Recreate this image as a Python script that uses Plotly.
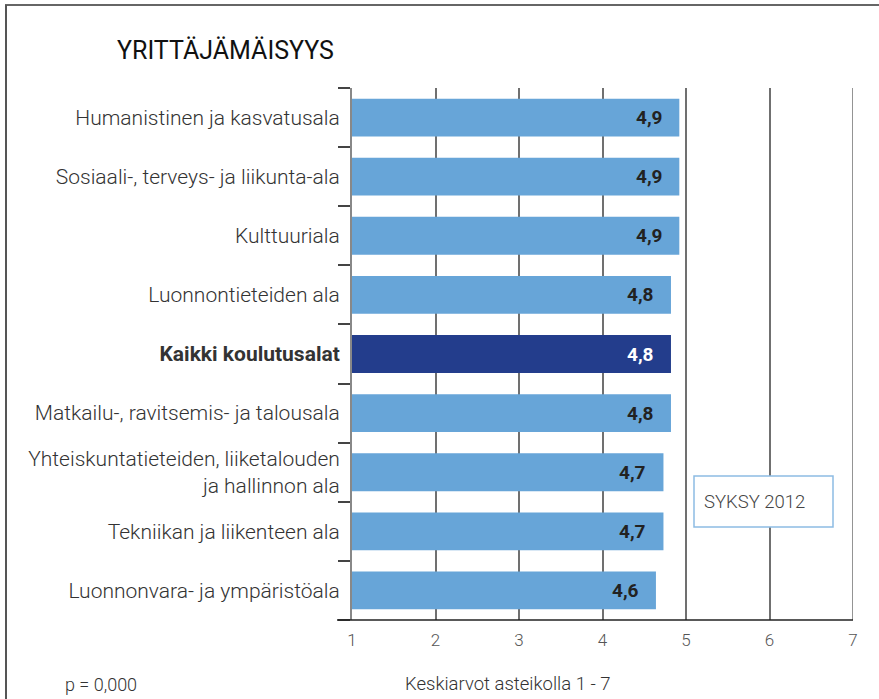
import plotly.graph_objects as go

categories = [
    "Humanistinen ja kasvatusala",
    "Sosiaali-, terveys- ja liikunta-ala",
    "Kulttuuriala",
    "Luonnontieteiden ala",
    "Kaikki koulutusalat",
    "Matkailu-, ravitsemis- ja talousala",
    "Yhteiskuntatieteiden, liiketalouden<br>ja hallinnon ala",
    "Tekniikan ja liikenteen ala",
    "Luonnonvara- ja ympäristöala",
]
values = [4.92, 4.92, 4.92, 4.82, 4.82, 4.82, 4.73, 4.73, 4.64]
value_labels = ["4,9", "4,9", "4,9", "4,8", "4,8", "4,8", "4,7", "4,7", "4,6"]
highlight = "Kaikki koulutusalat"
x_ticks = [1, 2, 3, 4, 5, 6, 7]

LIGHT = "#67A5D8"
DARK = "#233D8C"
FONT = "Roboto"

W, H = 879, 699
L, R, T, B = 352, 853, 88, 620

def px(x):
    return (x - L) / (R - L)

def py(y):
    return (B - y) / (B - T)

colors = [DARK if c == highlight else LIGHT for c in categories]
text_colors = ["#ffffff" if c == highlight else "#222222" for c in categories]
ticktext = [f"<b>{c}</b>" if c == highlight else c for c in categories]

fig = go.Figure()
fig.add_trace(go.Bar(
    x=values,
    y=categories,
    orientation="h",
    marker=dict(color=colors, line=dict(width=0)),
    hoverinfo="skip",
))

for c, v, lab, tc in zip(categories, values, value_labels, text_colors):
    fig.add_annotation(x=v, y=c, xref="x", yref="y", text=lab, showarrow=False,
                       xanchor="right", yanchor="middle", xshift=-15,
                       font=dict(family=FONT, size=19, color=tc, weight="bold"))

fig.update_layout(
    width=W, height=H,
    margin=dict(l=L, r=W - R, t=T, b=H - B, pad=0),
    paper_bgcolor="white",
    plot_bgcolor="white",
    showlegend=False,
    bargap=0.36,
    font=dict(family=FONT, color="#333333"),
    xaxis=dict(
        range=[1, 7],
        tickvals=x_ticks,
        ticktext=[str(t) for t in x_ticks],
        showgrid=True,
        gridcolor="#707070",
        gridwidth=1.5,
        zeroline=False,
        showline=False,
        ticks="",
        tickfont=dict(family=FONT, size=17, color="#555555", weight=300),
        ticklabelstandoff=8,
    ),
    yaxis=dict(
        categoryorder="array",
        categoryarray=categories,
        autorange="reversed",
        tickmode="array",
        tickvals=categories,
        ticktext=ticktext,
        tickson="boundaries",
        ticks="outside",
        ticklen=12,
        tickwidth=1.5,
        tickcolor="#444444",
        showline=True,
        linecolor="#888888",
        linewidth=2,
        showgrid=False,
        zeroline=False,
        tickfont=dict(family=FONT, size=21, color="#333333", weight=300),
        ticklabelstandoff=6,
    ),
)

shapes = [
    # gridline at the last tick (range end)
    dict(type="line", xref="x", yref="paper", x0=x_ticks[-1], x1=x_ticks[-1], y0=0, y1=1,
         line=dict(color="#707070", width=1.5), layer="below"),
    # x axis line
    dict(type="line", xref="paper", yref="paper", x0=px(337), x1=px(853), y0=0, y1=0,
         line=dict(color="#222222", width=1.5)),
    # frame top
    dict(type="line", xref="paper", yref="paper", x0=px(5), x1=px(880), y0=py(5), y1=py(5),
         line=dict(color="#666666", width=2)),
    # frame left
    dict(type="line", xref="paper", yref="paper", x0=px(6), x1=px(6), y0=py(5), y1=py(700),
         line=dict(color="#555555", width=2)),
    # legend box
    dict(type="rect", xref="paper", yref="paper", x0=px(694), x1=px(833), y0=py(476), y1=py(527),
         fillcolor="white", line=dict(color="#8DBCE3", width=1.5), layer="above"),
]
fig.update_layout(shapes=shapes)

fig.add_annotation(xref="paper", yref="paper", x=px(115), y=py(50), xanchor="left", yanchor="middle",
                   text="YRITTÄJÄMÄISYYS", showarrow=False,
                   font=dict(family=FONT, size=25, color="#111111"))
fig.add_annotation(xref="paper", yref="paper", x=px(702), y=py(502), xanchor="left", yanchor="middle",
                   text="SYKSY 2012", showarrow=False,
                   font=dict(family=FONT, size=18.5, color="#444444", weight=300))
fig.add_annotation(xref="paper", yref="paper", x=px(63), y=py(684), xanchor="left", yanchor="middle",
                   text="p = 0,000", showarrow=False,
                   font=dict(family=FONT, size=18, color="#333333", weight=300))
fig.add_annotation(xref="paper", yref="paper", x=px(508), y=py(684), xanchor="center", yanchor="middle",
                   text="Keskiarvot asteikolla 1 - 7", showarrow=False,
                   font=dict(family=FONT, size=18.5, color="#333333", weight=300))

fig.write_html("out.html", config={"displayModeBar": False},
               post_script="document.body.style.margin='0';document.body.style.overflow='hidden';")
